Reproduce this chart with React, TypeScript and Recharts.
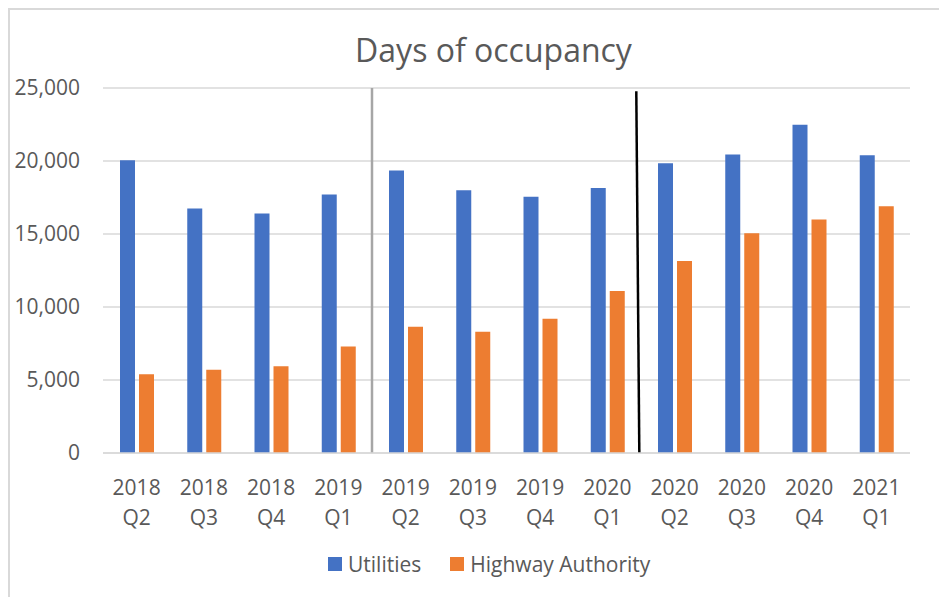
import React from "react";
import {
  BarChart,
  Bar,
  XAxis,
  YAxis,
  CartesianGrid,
  Legend,
  ReferenceLine,
} from "recharts";

const quarters = [
  "2018 Q2", "2018 Q3", "2018 Q4", "2019 Q1",
  "2019 Q2", "2019 Q3", "2019 Q4", "2020 Q1",
  "2020 Q2", "2020 Q3", "2020 Q4", "2021 Q1",
];
const utilities = [20050, 16750, 16400, 17700, 19350, 18000, 17550, 18150, 19850, 20450, 22480, 20400];
const highwayAuthority = [5400, 5700, 5950, 7300, 8650, 8300, 9200, 11100, 13150, 15050, 16000, 16900];
const yTicks = [0, 5000, 10000, 15000, 20000, 25000];

// divider positions, in category units (0..12)
const yearDivider = 4;
const periodDivider = [
  { x: 7.93, y: 24780 },
  { x: 7.975, y: 0 },
];

const data = quarters.map((q, i) => ({
  quarter: q,
  slot: i + 0.5,
  utilities: utilities[i],
  highway: highwayAuthority[i],
}));

const FONT = "'Open Sans', sans-serif";
const TEXT = "#595959";

const QuarterTick = ({ x, y, payload }: any) => {
  const [year, q] = String(payload.value).split(" ");
  return (
    <text x={x} textAnchor="middle" fill={TEXT} fontSize={21} fontFamily={FONT}>
      <tspan x={x} y={y + 40}>{year}</tspan>
      <tspan x={x} y={y + 70}>{q}</tspan>
    </text>
  );
};

const LegendContent = () => (
  <div style={{ display: "flex", alignItems: "center", fontFamily: FONT, fontSize: 21, color: TEXT }}>
    <span style={{ width: 14, height: 14, background: "#4472C4", marginRight: 6 }} />
    <span style={{ marginRight: 29 }}>Utilities</span>
    <span style={{ width: 14, height: 14, background: "#ED7D31", marginRight: 6 }} />
    <span>Highway Authority</span>
  </div>
);

export default function App() {
  return (
    <div style={{ position: "relative", width: 939, height: 589, background: "#fff" }}>
      <div
        style={{
          position: "absolute",
          left: 0,
          top: 20,
          width: 939,
          textAlign: "center",
          fontFamily: FONT,
          fontSize: 32,
          color: TEXT,
          paddingLeft: 32,
          boxSizing: "border-box",
        }}
      >
        Days of occupancy
      </div>
      <BarChart
        width={939}
        height={589}
        data={data}
        margin={{ top: 80, right: 37, left: 0, bottom: 17 }}
        barSize={15}
        barGap={4}
      >
        <CartesianGrid vertical={false} stroke="#D9D9D9" strokeWidth={1.5} />
        <XAxis
          dataKey="quarter"
          interval={0}
          height={97}
          tickLine={false}
          tickSize={0}
          axisLine={{ stroke: "#D9D9D9", strokeWidth: 1.5 }}
          tick={<QuarterTick />}
        />
        <XAxis
          xAxisId="pos"
          dataKey="slot"
          type="number"
          domain={[0, 12]}
          allowDataOverflow
          hide
        />
        <YAxis
          width={95}
          domain={[0, 25000]}
          ticks={yTicks}
          axisLine={false}
          tickLine={false}
          tickSize={0}
          tickMargin={23}
          tickFormatter={(v: number) => v.toLocaleString("en-US")}
          tick={{ fill: TEXT, fontSize: 21, fontFamily: FONT }}
        />
        <Legend
          verticalAlign="bottom"
          height={30}
          content={<LegendContent />}
          wrapperStyle={{ left: 320, width: "auto" }}
        />
        <Bar dataKey="utilities" name="Utilities" fill="#4472C4" isAnimationActive={false} />
        <Bar dataKey="highway" name="Highway Authority" fill="#ED7D31" isAnimationActive={false} />
        <ReferenceLine xAxisId="pos" x={yearDivider} stroke="#A6A6A6" strokeWidth={2.5} />
        <ReferenceLine xAxisId="pos" segment={periodDivider} stroke="#000" strokeWidth={2.5} ifOverflow="visible" />
      </BarChart>
      <div
        style={{
          position: "absolute",
          left: 0,
          top: 0,
          width: 939,
          height: 589,
          borderTop: "2px solid #D9D9D9",
          borderLeft: "2px solid #D9D9D9",
          boxSizing: "border-box",
          pointerEvents: "none",
        }}
      />
    </div>
  );
}
